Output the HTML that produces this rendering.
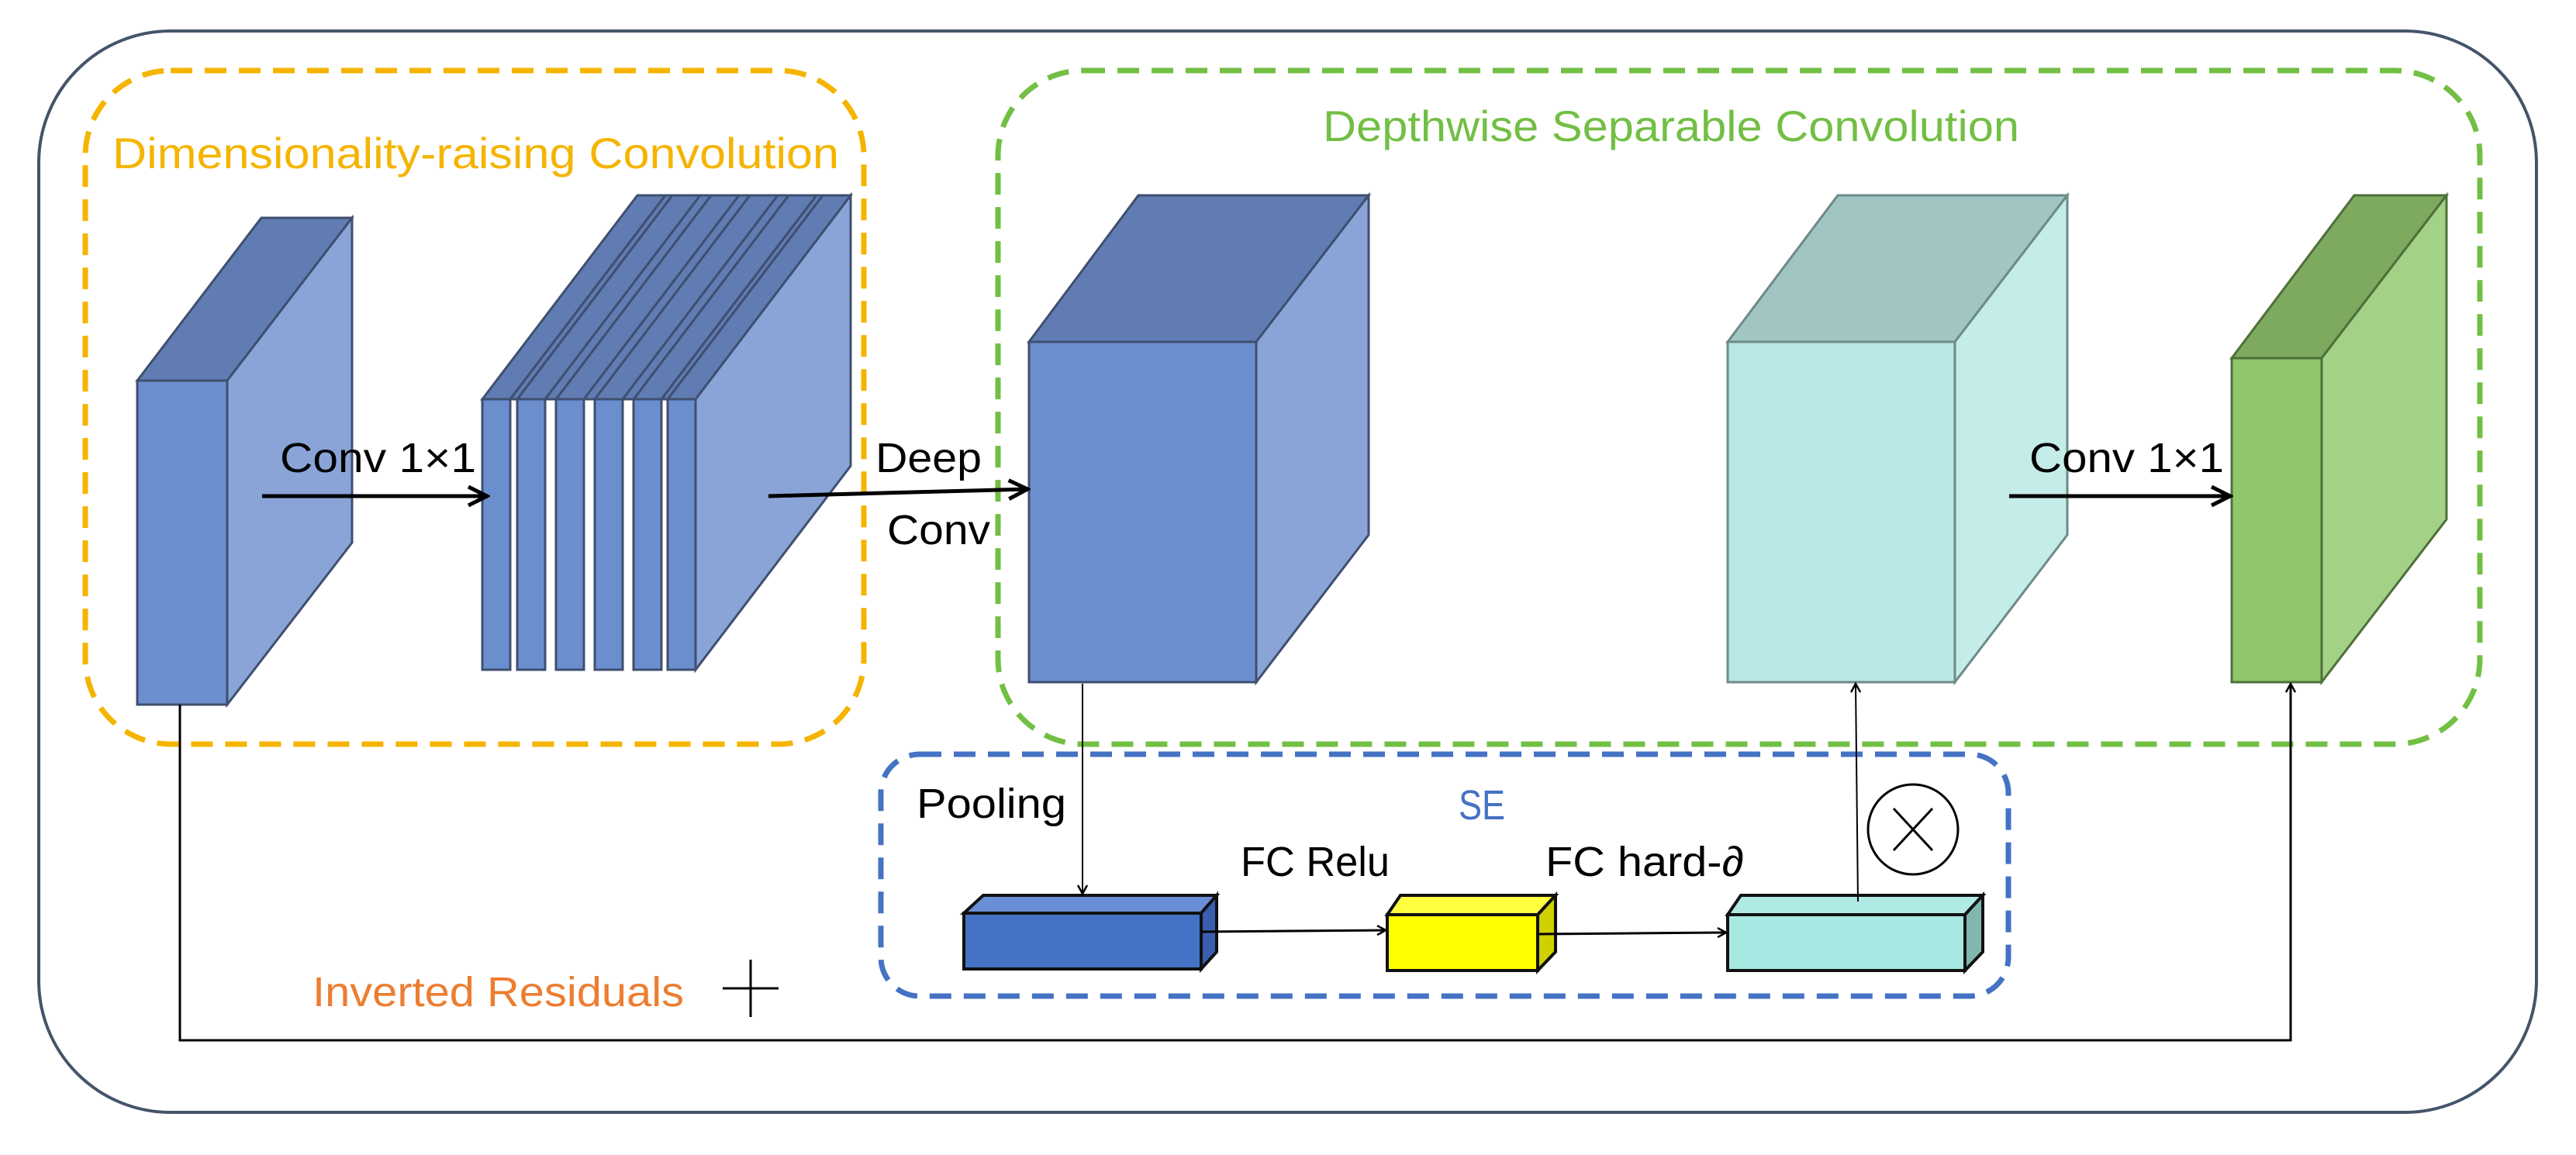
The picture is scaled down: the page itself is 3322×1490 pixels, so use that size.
<!DOCTYPE html>
<html><head><meta charset="utf-8"><style>html,body{margin:0;padding:0;background:#fff}svg{display:block}</style></head><body>
<svg width="3322" height="1490" viewBox="0 0 3322 1490" xmlns="http://www.w3.org/2000/svg" font-family="'Liberation Sans', sans-serif">
<defs>
<marker id="a" markerWidth="14" markerHeight="14" refX="12" refY="7" orient="auto" markerUnits="userSpaceOnUse"><path d="M1,1 L12,7 L1,13" fill="none" stroke="#000" stroke-width="2.5"/></marker>
<marker id="b" markerWidth="30" markerHeight="30" refX="26" refY="15" orient="auto" markerUnits="userSpaceOnUse"><path d="M2,3 L26,15 L2,27" fill="none" stroke="#000" stroke-width="5"/></marker>
</defs>
<rect x="50" y="40" width="3221" height="1395" rx="170" fill="none" stroke="#44546a" stroke-width="4"/>
<rect x="110" y="91" width="1004" height="869" rx="110" fill="none" stroke="#f5b400" stroke-width="7" stroke-dasharray="28,16"/>
<rect x="1287" y="91" width="1911" height="869" rx="110" fill="none" stroke="#72bf44" stroke-width="7" stroke-dasharray="28,16"/>
<rect x="1136" y="973" width="1454" height="312" rx="50" fill="none" stroke="#4472c4" stroke-width="7" stroke-dasharray="28,16"/>
<text x="145" y="217" font-size="56" fill="#f5b400" textLength="937" lengthAdjust="spacingAndGlyphs">Dimensionality-raising Convolution</text>
<text x="1706" y="182" font-size="56" fill="#72bf44" textLength="898" lengthAdjust="spacingAndGlyphs">Depthwise Separable Convolution</text>
<g stroke="#3f4f6f" stroke-width="3">
<polygon points="177,491 337,281 454,281 293,491" fill="#617cb3"/>
<polygon points="293,491 454,281 454,700 293,909" fill="#8aa4d8"/>
<rect x="177" y="491" width="116" height="418" fill="#6b8ecf"/>
<polygon points="897,515 1097,252 1097,601 897,864" fill="#8aa4d8"/>
<polygon points="861,515 1061,252 1097,252 897,515" fill="#617cb3"/>
<rect x="861" y="515" width="36" height="349" fill="#6b8ecf"/>
<polygon points="817,515 1017,252 1053,252 853,515" fill="#617cb3"/>
<polygon points="853,515 1053,252 1061,252 861,515" fill="#617cb3"/>
<rect x="817" y="515" width="36" height="349" fill="#6b8ecf"/>
<polygon points="767,515 967,252 1003,252 803,515" fill="#617cb3"/>
<polygon points="803,515 1003,252 1017,252 817,515" fill="#617cb3"/>
<rect x="767" y="515" width="36" height="349" fill="#6b8ecf"/>
<polygon points="717,515 917,252 953,252 753,515" fill="#617cb3"/>
<polygon points="753,515 953,252 967,252 767,515" fill="#617cb3"/>
<rect x="717" y="515" width="36" height="349" fill="#6b8ecf"/>
<polygon points="667,515 867,252 903,252 703,515" fill="#617cb3"/>
<polygon points="703,515 903,252 917,252 717,515" fill="#617cb3"/>
<rect x="667" y="515" width="36" height="349" fill="#6b8ecf"/>
<polygon points="622,515 822,252 858,252 658,515" fill="#617cb3"/>
<polygon points="658,515 858,252 867,252 667,515" fill="#617cb3"/>
<rect x="622" y="515" width="36" height="349" fill="#6b8ecf"/>
<polygon points="1327,441 1468,252 1765,252 1620,441" fill="#617cb3"/>
<polygon points="1620,441 1765,252 1765,690 1620,880" fill="#8aa4d8"/>
<rect x="1327" y="441" width="293" height="439" fill="#6b8ecf"/>
</g>
<g stroke="#6e8a88" stroke-width="3">
<polygon points="2228,441 2370,252 2666,252 2521,441" fill="#a0c5c3"/>
<polygon points="2521,441 2666,252 2666,690 2521,880" fill="#c4ece8"/>
<rect x="2228" y="441" width="293" height="439" fill="#b7e8e4"/>
</g>
<g stroke="#4f6f3a" stroke-width="3">
<polygon points="2878,462 3036,252 3155,252 2994,462" fill="#7daa5e"/>
<polygon points="2994,462 3155,252 3155,670 2994,880" fill="#a3d186"/>
<rect x="2878" y="462" width="116" height="418" fill="#92c66a"/>
</g>
<line x1="338" y1="640" x2="628" y2="640" stroke="#000" stroke-width="5" marker-end="url(#b)"/>
<line x1="991" y1="640" x2="1325" y2="631" stroke="#000" stroke-width="5" marker-end="url(#b)"/>
<line x1="2591" y1="640" x2="2876" y2="640" stroke="#000" stroke-width="5" marker-end="url(#b)"/>
<g font-size="54" fill="#000">
<text x="361" y="609" textLength="253" lengthAdjust="spacingAndGlyphs">Conv 1×1</text>
<text x="2617" y="609" textLength="251" lengthAdjust="spacingAndGlyphs">Conv 1×1</text>
<text x="1129" y="609" textLength="137" lengthAdjust="spacingAndGlyphs">Deep</text>
<text x="1144" y="702" textLength="133" lengthAdjust="spacingAndGlyphs">Conv</text>
<text x="1182" y="1055" textLength="193" lengthAdjust="spacingAndGlyphs">Pooling</text>
<text x="1600" y="1130" textLength="192" lengthAdjust="spacingAndGlyphs">FC Relu</text>
<text x="1993" y="1130" textLength="256" lengthAdjust="spacingAndGlyphs">FC hard-∂</text>
</g>
<text x="1881" y="1057" font-size="54" fill="#4472c4" textLength="60" lengthAdjust="spacingAndGlyphs">SE</text>
<text x="403" y="1298" font-size="54" fill="#ed7d31" textLength="479" lengthAdjust="spacingAndGlyphs">Inverted Residuals</text>
<line x1="932" y1="1275" x2="1004" y2="1275" stroke="#000" stroke-width="3"/>
<line x1="968" y1="1238" x2="968" y2="1312" stroke="#000" stroke-width="3"/>
<g stroke="#111" stroke-width="4">
<polygon points="1243,1178 1268,1155 1569,1155 1549,1178" fill="#6a8fd8"/>
<polygon points="1549,1178 1569,1155 1569,1228 1549,1250" fill="#3a5fae"/>
<rect x="1243" y="1178" width="306" height="72" fill="#4472c4"/>
<polygon points="1789,1180 1806,1155 2006,1155 1983,1180" fill="#ffff40"/>
<polygon points="1983,1180 2006,1155 2006,1228 1983,1252" fill="#d0d000"/>
<rect x="1789" y="1180" width="194" height="72" fill="#ffff00"/>
<polygon points="2228,1180 2245,1155 2557,1155 2534,1180" fill="#b0eae4"/>
<polygon points="2534,1180 2557,1155 2557,1228 2534,1252" fill="#80b8b0"/>
<rect x="2228" y="1180" width="306" height="72" fill="#a8e8e2"/>
</g>
<line x1="1549" y1="1202" x2="1787" y2="1200" stroke="#000" stroke-width="3" marker-end="url(#a)"/>
<line x1="1983" y1="1205" x2="2226" y2="1203" stroke="#000" stroke-width="3" marker-end="url(#a)"/>
<line x1="1396" y1="882" x2="1396" y2="1153" stroke="#000" stroke-width="2" marker-end="url(#a)"/>
<line x1="2396" y1="1163" x2="2393" y2="882" stroke="#000" stroke-width="2" marker-end="url(#a)"/>
<ellipse cx="2467" cy="1070" rx="58" ry="58" fill="none" stroke="#000" stroke-width="3"/>
<line x1="2442" y1="1043" x2="2492" y2="1097" stroke="#000" stroke-width="3"/>
<line x1="2492" y1="1043" x2="2442" y2="1097" stroke="#000" stroke-width="3"/>
<polyline points="232,909 232,1342 2954,1342 2954,882" fill="none" stroke="#000" stroke-width="3" marker-end="url(#a)"/>
</svg>
</body></html>
